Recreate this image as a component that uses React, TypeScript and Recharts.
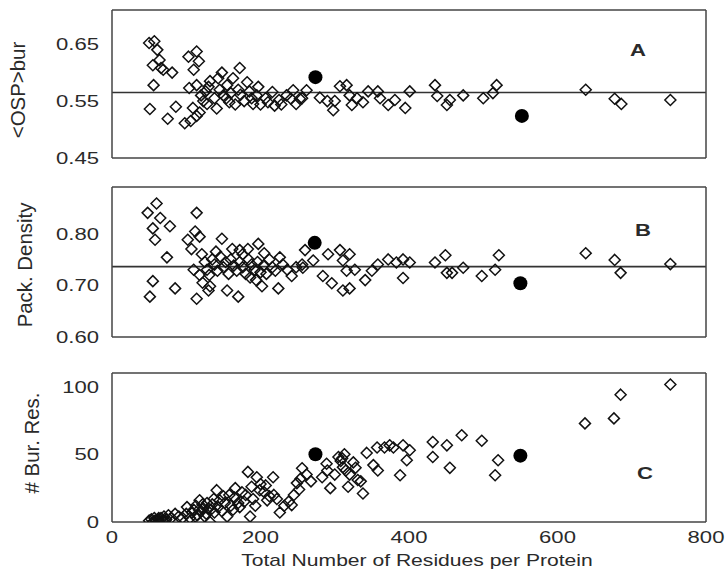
import React from "react";
import { ScatterChart, Scatter, XAxis, YAxis, ReferenceLine } from "recharts";

// x axis (shared by the three panels)
const X_DOMAIN = [0, 800];
const X_LABEL_TICKS = [0, 200, 400, 600, 800];
const X_MINOR_TICKS = [0, 100, 200, 300, 400, 500, 600, 700, 800];

// panel A: <OSP>bur
const A_DOMAIN = [0.45, 0.71];
const A_LABEL_TICKS = [0.45, 0.55, 0.65];
const A_MINOR_TICKS = [0.45, 0.5, 0.55, 0.6, 0.65, 0.7];
const A_MEAN = 0.565;
const A_OPEN: [number, number][] = [
  [50, 0.652], [57, 0.655], [61, 0.64], [64, 0.622], [55, 0.613], [66, 0.608], [69, 0.605],
  [81, 0.6], [56, 0.578], [51, 0.536], [75, 0.519], [86, 0.54], [98, 0.511], [103, 0.628],
  [114, 0.637], [117, 0.62], [110, 0.605], [114, 0.578], [104, 0.573], [109, 0.538], [114, 0.524],
  [123, 0.55], [126, 0.567], [132, 0.585], [141, 0.537], [148, 0.6], [154, 0.555], [160, 0.564],
  [166, 0.544], [172, 0.608], [173, 0.561], [182, 0.583], [185, 0.567], [188, 0.555], [197, 0.575],
  [200, 0.544], [207, 0.555], [216, 0.566], [219, 0.542], [228, 0.544], [241, 0.554], [244, 0.569],
  [253, 0.554], [130, 0.575], [145, 0.57], [150, 0.56], [158, 0.548], [170, 0.57], [178, 0.55],
  [190, 0.545], [195, 0.56], [210, 0.548], [225, 0.552], [235, 0.56], [248, 0.545], [120, 0.56],
  [128, 0.545], [138, 0.555], [143, 0.59], [155, 0.578], [163, 0.59], [106, 0.515], [118, 0.53],
  [256, 0.555], [262, 0.569], [280, 0.556], [290, 0.55], [298, 0.534], [300, 0.55], [307, 0.576],
  [316, 0.578], [320, 0.56], [323, 0.543], [330, 0.555], [338, 0.548], [345, 0.567], [358, 0.567],
  [361, 0.555], [372, 0.543], [381, 0.552], [395, 0.538], [401, 0.567], [435, 0.578], [438, 0.559],
  [451, 0.543], [455, 0.552], [473, 0.56], [500, 0.555], [513, 0.564], [518, 0.578],
  [638, 0.57], [677, 0.554], [686, 0.545], [752, 0.552],
];
const A_FILLED: [number, number][] = [[274, 0.592], [552, 0.524]];

// panel B: packing density
const B_DOMAIN = [0.6, 0.89];
const B_LABEL_TICKS = [0.6, 0.7, 0.8];
const B_MINOR_TICKS = [0.6, 0.65, 0.7, 0.75, 0.8, 0.85];
const B_MEAN = 0.736;
const B_OPEN: [number, number][] = [
  [48, 0.84], [60, 0.858], [65, 0.83], [55, 0.81], [58, 0.788], [78, 0.814], [74, 0.754],
  [55, 0.708], [51, 0.678], [85, 0.694], [114, 0.84], [112, 0.804], [102, 0.788], [118, 0.794],
  [107, 0.77], [148, 0.79], [114, 0.674], [132, 0.698], [155, 0.69], [170, 0.678], [202, 0.698],
  [224, 0.694], [197, 0.78], [183, 0.77], [172, 0.768], [226, 0.754], [242, 0.718], [256, 0.74],
  [125, 0.745], [128, 0.73], [131, 0.72], [135, 0.75], [138, 0.74], [142, 0.728], [146, 0.755],
  [150, 0.735], [153, 0.745], [157, 0.722], [160, 0.75], [164, 0.738], [168, 0.728], [172, 0.745],
  [176, 0.735], [180, 0.722], [184, 0.75], [188, 0.74], [192, 0.73], [196, 0.745], [200, 0.725],
  [204, 0.738], [208, 0.722], [212, 0.75], [216, 0.735], [220, 0.728], [230, 0.74], [236, 0.73],
  [248, 0.735], [118, 0.72], [122, 0.705], [121, 0.76], [140, 0.765], [162, 0.77], [176, 0.76],
  [205, 0.762], [186, 0.715], [194, 0.71], [110, 0.73], [130, 0.69],
  [260, 0.768], [257, 0.734], [271, 0.748], [291, 0.76], [284, 0.718], [296, 0.704], [307, 0.768],
  [311, 0.748], [320, 0.76], [311, 0.69], [320, 0.694], [316, 0.728], [327, 0.73], [341, 0.71],
  [350, 0.728], [358, 0.74], [372, 0.75], [383, 0.744], [392, 0.75], [401, 0.744], [392, 0.714],
  [435, 0.744], [449, 0.758], [451, 0.724], [458, 0.724], [473, 0.734], [498, 0.718], [516, 0.73],
  [521, 0.758], [638, 0.762], [677, 0.749], [685, 0.724], [752, 0.741],
];
const B_FILLED: [number, number][] = [[273, 0.782], [550, 0.704]];

// panel C: number of buried residues
const C_DOMAIN = [0, 110];
const C_LABEL_TICKS = [0, 50, 100];
const C_MINOR_TICKS = [0, 10, 20, 30, 40, 50, 60, 70, 80, 90, 100, 110];
const C_OPEN: [number, number][] = [
  [50, 1], [53, 2], [55, 0], [57, 3], [60, 1], [62, 2], [64, 0], [66, 3], [68, 1], [70, 4],
  [73, 2], [76, 5], [80, 3], [85, 6], [90, 4], [95, 3], [100, 6], [101, 11], [105, 3], [108, 7],
  [110, 9], [113, 12], [115, 5], [118, 16], [120, 8], [123, 10], [125, 4], [128, 14], [130, 10],
  [132, 0], [135, 13], [138, 7], [141, 23.5], [145, 16], [150, 19], [155, 4], [160, 12], [165, 18],
  [166, 25], [170, 14], [172, 11], [175, 22], [180, 20], [183, 37], [186, 4], [190, 17], [195, 33],
  [199, 23.5], [200, 28], [205, 22], [209, 16], [212, 19], [217, 33], [218, 20], [222, 17], [226, 7],
  [232, 12], [238, 15], [242, 12.5], [245, 20], [249, 28.7], [252, 24], [254, 32], [256, 39.7],
  [262, 35], [268, 30], [283, 33], [289, 43], [290, 38], [294, 25], [300, 35], [305, 48], [308, 45],
  [310, 47], [311, 40.5], [313, 50], [315, 38], [318, 26], [320, 35], [325, 44], [328, 40], [331, 31],
  [335, 30], [338, 21], [343, 51], [352, 42], [357, 55], [358, 38], [367, 55], [374, 56.6], [379, 55],
  [388, 34.5], [392, 56.6], [397, 45.6], [401, 53], [432, 59], [432, 48], [451, 56.6], [455, 40],
  [471, 64], [498, 60], [516, 34.5], [520, 45.6], [637, 72.8], [676, 76.5], [685, 94], [752, 101.5],
  [58, 1], [63, 3], [72, 1], [112, 4], [117, 9], [122, 13], [127, 6], [133, 9], [137, 17], [143, 11],
  [148, 8], [152, 14], [158, 20], [163, 9], [178, 15], [188, 26], [193, 12], [207, 27],
];
const C_FILLED: [number, number][] = [[274, 50], [550, 49]];

const FONT = "'Liberation Sans', Arial, Helvetica, sans-serif";
const INK = "#2a2a2a";
const FRAME = "#444";

const toPoints = (rows: [number, number][]) => rows.map(([x, y]) => ({ x, y }));

function Diamond(props: any) {
  const { cx, cy } = props;
  if (cx == null || cy == null) return null;
  const w = 5.5;
  const h = 5.5;
  return (
    <path
      d={`M${cx},${cy - h}L${cx + w},${cy}L${cx},${cy + h}L${cx - w},${cy}Z`}
      fill="none"
      stroke="#111"
      strokeWidth={1.5}
    />
  );
}

function FilledDot(props: any) {
  const { cx, cy } = props;
  if (cx == null || cy == null) return null;
  return <circle cx={cx} cy={cy} r={7} fill="#000" />;
}

function XTick(props: any) {
  const { x, y, payload } = props;
  return (
    <text
      transform={`translate(${x},${y}) scale(1.3,1)`}
      textAnchor="middle"
      dy="0.71em"
      fontSize={17}
      fontFamily={FONT}
      fill={INK}
    >
      {payload.value}
    </text>
  );
}

function makeYTick(digits: number) {
  return (props: any) => {
    const { x, y, payload } = props;
    return (
      <text
        transform={`translate(${x},${y}) scale(1.3,1)`}
        textAnchor="end"
        dy="0.36em"
        fontSize={17}
        fontFamily={FONT}
        fill={INK}
      >
        {Number(payload.value).toFixed(digits)}
      </text>
    );
  };
}

interface PanelProps {
  top: number;
  height: number;
  bottom: number;
  yDomain: number[];
  yLabelTicks: number[];
  yMinorTicks: number[];
  digits: number;
  open: [number, number][];
  filled: [number, number][];
  mean?: number;
  xLabels?: boolean;
}

function Panel({ top, height, bottom, yDomain, yLabelTicks, yMinorTicks, digits, open, filled, mean, xLabels }: PanelProps) {
  const openPts = toPoints(open);
  const filledPts = toPoints(filled);
  // tick-only axes: mirrored so the marks point into the plot, they also draw the frame
  const tickProps = { tick: false, tickSize: 5, stroke: FRAME, strokeWidth: 1.5, allowDataOverflow: true } as const;
  return (
    <div style={{ position: "absolute", left: 0, top }}>
      <ScatterChart width={725} height={height} margin={{ top: 10, right: 19, bottom, left: 0 }} data={openPts}>
        <XAxis xAxisId="b" type="number" dataKey="x" domain={X_DOMAIN} ticks={X_MINOR_TICKS} orientation="bottom" mirror height={1} {...tickProps} />
        <XAxis xAxisId="t" type="number" dataKey="x" domain={X_DOMAIN} ticks={X_MINOR_TICKS} orientation="top" mirror height={1} {...tickProps} />
        {xLabels && (
          <XAxis
            xAxisId="lab"
            type="number"
            dataKey="x"
            domain={X_DOMAIN}
            ticks={X_LABEL_TICKS}
            allowDataOverflow
            axisLine={false}
            tickLine={false}
            tickSize={0}
            tickMargin={9}
            height={66}
            tick={XTick}
          />
        )}
        <YAxis yAxisId="l" type="number" dataKey="y" domain={yDomain} ticks={yMinorTicks} orientation="left" mirror width={1} {...tickProps} />
        <YAxis yAxisId="r" type="number" dataKey="y" domain={yDomain} ticks={yMinorTicks} orientation="right" mirror width={1} {...tickProps} />
        <YAxis
          yAxisId="lab"
          type="number"
          dataKey="y"
          domain={yDomain}
          ticks={yLabelTicks}
          allowDataOverflow
          orientation="left"
          width={112}
          axisLine={false}
          tickLine={false}
          tickSize={0}
          tickMargin={13}
          tick={makeYTick(digits)}
        />
        {mean != null && (
          <ReferenceLine xAxisId="b" yAxisId="l" y={mean} stroke="#333" strokeWidth={1.6} />
        )}
        <Scatter xAxisId="b" yAxisId="l" data={openPts} shape={Diamond} isAnimationActive={false} />
        <Scatter xAxisId="b" yAxisId="l" data={filledPts} shape={FilledDot} isAnimationActive={false} />
      </ScatterChart>
    </div>
  );
}

const overlayText: React.CSSProperties = {
  position: "absolute",
  whiteSpace: "nowrap",
  fontFamily: FONT,
  color: INK,
  lineHeight: 1,
};

function RotLabel({ x, y, text }: { x: number; y: number; text: string }) {
  return (
    <div style={{ ...overlayText, left: x, top: y, fontSize: 15, transform: "translate(-50%,-50%) rotate(-90deg) scale(1.36,1.3)" }}>
      {text}
    </div>
  );
}

function Letter({ x, y, text }: { x: number; y: number; text: string }) {
  return (
    <div style={{ ...overlayText, left: x, top: y, fontSize: 17, fontWeight: "bold", transform: "translate(-50%,-50%) scale(1.3,1)" }}>
      {text}
    </div>
  );
}

export default function App() {
  return (
    <div style={{ position: "absolute", left: 0, top: 0, width: 725, height: 588, background: "#fff", overflow: "hidden" }}>
      <Panel top={0} height={170} bottom={12} yDomain={A_DOMAIN} yLabelTicks={A_LABEL_TICKS} yMinorTicks={A_MINOR_TICKS} digits={2} open={A_OPEN} filled={A_FILLED} mean={A_MEAN} />
      <Panel top={177} height={170} bottom={10} yDomain={B_DOMAIN} yLabelTicks={B_LABEL_TICKS} yMinorTicks={B_MINOR_TICKS} digits={2} open={B_OPEN} filled={B_FILLED} mean={B_MEAN} />
      <Panel top={363} height={225} bottom={0} yDomain={C_DOMAIN} yLabelTicks={C_LABEL_TICKS} yMinorTicks={C_MINOR_TICKS} digits={0} open={C_OPEN} filled={C_FILLED} xLabels />
      <RotLabel x={18} y={90} text="<OSP>bur" />
      <RotLabel x={25} y={265} text="Pack. Density" />
      <RotLabel x={32} y={443} text="# Bur. Res." />
      <Letter x={638} y={50} text="A" />
      <Letter x={643} y={230} text="B" />
      <Letter x={645} y={473} text="C" />
      <div style={{ ...overlayText, left: 417, top: 560, fontSize: 17, transform: "translate(-50%,-50%) scale(1.24,1)" }}>
        Total Number of Residues per Protein
      </div>
    </div>
  );
}
